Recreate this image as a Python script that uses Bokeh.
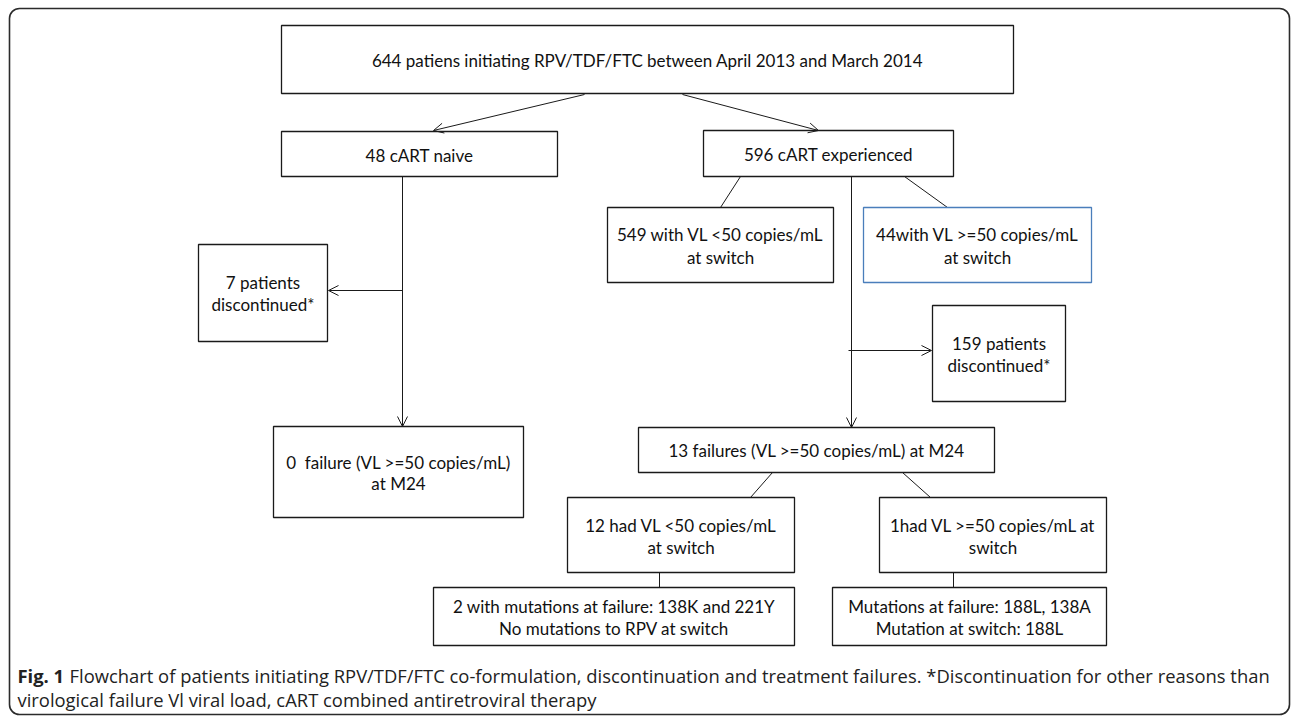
from bokeh.plotting import figure
from bokeh.models import Range1d, Arrow, OpenHead, BoxAnnotation, ColumnDataSource
from bokeh.core.properties import value
from bokeh.embed import file_html
from bokeh.resources import INLINE

# ---------------- content (texts / counts) ----------------
box_lines = [
    ["644 patiens initiating RPV/TDF/FTC between April 2013 and March 2014"],
    ["48 cART naive"],
    ["596 cART experienced"],
    ["549 with VL <50 copies/mL", "at switch"],
    ["44with VL >=50 copies/mL", "at switch"],
    ["7 patients", "discontinued*"],
    ["159 patients", "discontinued*"],
    ["0\u00a0 failure (VL >=50 copies/mL)", "at M24"],
    ["13 failures (VL >=50 copies/mL) at M24"],
    ["12 had VL <50 copies/mL", "at switch"],
    ["1had VL >=50 copies/mL at", "switch"],
    ["2 with mutations at failure: 138K and 221Y", "No mutations to RPV at switch"],
    ["Mutations at failure: 188L, 138A", "Mutation at switch: 188L"],
]
caption_bold = "Fig. 1"
caption_line1 = ("Flowchart of patients initiating RPV/TDF/FTC co-formulation, discontinuation "
                 "and treatment failures. *Discontinuation for other reasons than")
caption_line2 = "virological failure Vl viral load, cART combined antiretroviral therapy"

# ---------------- layout (pixel coordinates) ----------------
box_left = [281, 281, 703, 607, 863, 198, 932, 273, 638, 567, 879, 433, 832]
box_right = [1013, 557, 953, 833, 1091, 327, 1065, 523, 994, 794, 1106, 794, 1106]
box_top = [25, 131, 130, 207, 207, 244, 305, 426, 427, 497, 497, 587, 587]
box_bottom = [93, 176, 176, 282, 282, 341, 401, 517, 472, 572, 572, 645, 645]
box_color = ["#1a1a1a"] * 4 + ["#4a7ebb"] + ["#1a1a1a"] * 8
line_ys = [[60], [155], [154], [234, 257], [234, 257], [282, 304], [343, 365],
           [462, 483], [450], [525, 547], [525, 547], [606, 628], [606, 628]]

arrows = [  # (x0, y0, x1, y1)
    (584, 94, 433, 130),
    (682, 94, 818, 130),
    (402, 290, 328, 290),
    (402, 176, 402, 426),
    (851, 176, 851, 427),
    (848, 350, 931, 350),
]
segments = [
    (740, 176, 720, 207),
    (904, 176, 947, 207),
    (772, 472, 750, 497),
    (902, 472, 930, 497),
    (659, 572, 659, 587),
    (953, 572, 953, 587),
]

W, H = 1291, 716
p = figure(width=W, height=H, x_range=Range1d(0, W), y_range=Range1d(H, 0),
           output_backend="svg", toolbar_location=None, min_border=0,
           x_axis_type=None, y_axis_type=None)
p.grid.visible = False
p.outline_line_color = None
p.background_fill_color = "white"
p.border_fill_color = "white"

# outer rounded frame
p.add_layout(BoxAnnotation(left=9, right=1289, top=8, bottom=714, fill_alpha=0,
                           line_color="#2b2b2b", line_alpha=1.0, line_width=1.6,
                           border_radius=10, editable=False))

# connectors
p.segment(x0=[s[0] for s in segments], y0=[s[1] for s in segments],
          x1=[s[2] for s in segments], y1=[s[3] for s in segments],
          line_color="#1a1a1a", line_width=1)
for (x0, y0, x1, y1) in arrows:
    p.add_layout(Arrow(x_start=x0, y_start=y0, x_end=x1, y_end=y1,
                       line_color="#1a1a1a", line_width=1,
                       end=OpenHead(size=10, line_color="#1a1a1a", line_width=1)))

# boxes
src = ColumnDataSource(dict(l=box_left, r=box_right, t=box_top, b=box_bottom, c=box_color))
p.quad(left="l", right="r", top="t", bottom="b", source=src,
       fill_color="white", line_color="c", line_width=1.3)

# box texts
tx, ty, tt = [], [], []
for lines, ys, l, r in zip(box_lines, line_ys, box_left, box_right):
    for txt, y in zip(lines, ys):
        tx.append((l + r) / 2)
        ty.append(y)
        tt.append(txt)
p.text(x=tx, y=ty, text=tt, text_align="center", text_baseline="middle",
       text_font=value("Lato"), text_font_size="17px", text_color="#111111")

# caption
cap_font = value("Open Sans")
p.text(x=[17], y=[675], text=[caption_bold], text_align="left", text_baseline="middle",
       text_font=cap_font, text_font_style="bold", text_font_size="18.4px",
       text_color="#222222")
p.text(x=[69], y=[675], text=[caption_line1], text_align="left", text_baseline="middle",
       text_font=cap_font, text_font_size="18.4px", text_color="#222222")
p.text(x=[17], y=[699], text=[caption_line2], text_align="left", text_baseline="middle",
       text_font=cap_font, text_font_size="18.4px", text_color="#222222")

open("out.html", "w").write(file_html(p, INLINE))
